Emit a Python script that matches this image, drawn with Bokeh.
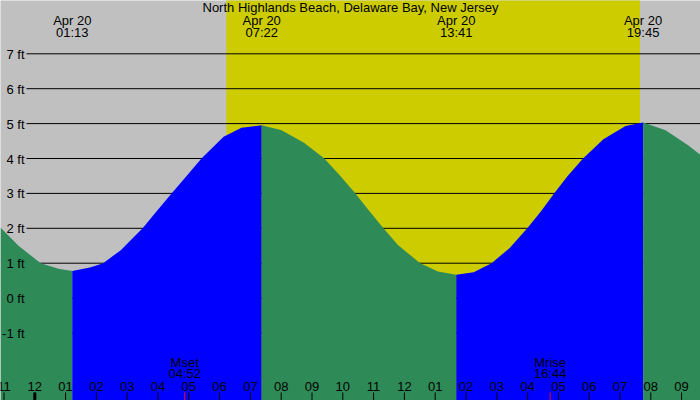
from bokeh.plotting import figure
from bokeh.models import Range1d
from bokeh.core.properties import value
from bokeh.embed import file_html
from bokeh.resources import INLINE

# ---------------- data ----------------
title_text = "North Highlands Beach, Delaware Bay, New Jersey"

# tide height (hours after midnight Apr 20, feet)
tide_hours = [-1.114, -0.53, 0.19, 0.77, 1.217, 1.79, 2.22, 2.80, 3.50, 3.95,
              4.44, 4.97, 5.41, 6.13, 6.71, 7.367, 8.01, 8.74, 9.40, 9.90,
              10.41, 10.84, 11.32, 11.79, 12.51, 13.09, 13.683, 14.25, 14.83,
              15.41, 15.99, 16.43, 16.86, 17.30, 17.80, 18.46, 19.18, 19.75,
              20.48, 21.21, 21.62]
tide_feet = [2.02, 1.50, 1.00, 0.84, 0.78, 0.88, 1.00, 1.38, 2.00, 2.48,
             3.00, 3.54, 4.00, 4.62, 4.88, 4.95, 4.81, 4.45, 4.00, 3.52,
             3.00, 2.52, 2.00, 1.52, 1.00, 0.76, 0.67, 0.74, 1.00,
             1.43, 2.00, 2.48, 3.00, 3.50, 4.00, 4.55, 4.93, 5.03,
             4.81, 4.38, 4.10]

# tide extremes
extreme_hours = [1.217, 7.367, 13.683, 19.75]
extreme_dates = ["Apr 20", "Apr 20", "Apr 20", "Apr 20"]
extreme_times = ["01:13", "07:22", "13:41", "19:45"]

# daylight
sunrise_hour = 6.22
sunset_hour = 19.65

# moon
moon_hours = [4.867, 16.733]
moon_names = ["Mset", "Mrise"]
moon_times = ["04:52", "16:44"]

# axis labels
level_ticks = [-1, 0, 1, 2, 3, 4, 5, 6, 7]
level_labels = ["-1 ft", "0 ft", "1 ft", "2 ft", "3 ft", "4 ft", "5 ft", "6 ft", "7 ft"]
hour_ticks = list(range(-1, 22))
hour_labels = ["11", "12", "01", "02", "03", "04", "05", "06", "07", "08", "09", "10",
               "11", "12", "01", "02", "03", "04", "05", "06", "07", "08", "09"]
midnight_hour = 0

# ---------------- layout ----------------
W, H = 700, 400
PX_PER_H = 30.8
MIDNIGHT_PX = 34.3
PX_PER_FT = 34.9
ZERO_PY = 297.6
TEXT_SHIFT = 4.5  # renderer places alphabetic baseline slightly low

X0 = -MIDNIGHT_PX / PX_PER_H
X1 = X0 + W / PX_PER_H
Y1 = ZERO_PY / PX_PER_FT
Y0 = (ZERO_PY - H) / PX_PER_FT


def hx(px):
    return X0 + px / PX_PER_H


def fy(py):
    return (ZERO_PY - py) / PX_PER_FT


def ty(py):
    return fy(py - TEXT_SHIFT)


GRAY = "#C0C0C0"
YELLOW = "#CCCC00"
GREEN = "#2E8B57"
BLUE = "#0000FF"
FONT = value("Liberation Sans")
FS = "13px"

p = figure(width=W, height=H, x_range=Range1d(X0, X1), y_range=Range1d(Y0, Y1),
           x_axis_type=None, y_axis_type=None, toolbar_location=None,
           output_backend="svg", min_border=0,
           background_fill_color=GRAY, border_fill_color=GRAY)
p.outline_line_color = None
p.grid.visible = False

# daylight band
p.quad(left=[sunrise_hour], right=[sunset_hour], bottom=[Y0 - 1], top=[Y1 + 1],
       fill_color=YELLOW, line_color=None)

# level lines
p.segment(x0=[hx(26)] * len(level_ticks), x1=[X1 + 1] * len(level_ticks),
          y0=level_ticks, y1=level_ticks, line_color="black", line_width=1)

# tide fills: rising = blue, falling = green
bounds = [X0 - 1] + extreme_hours + [X1 + 1]
for a, b in zip(bounds[:-1], bounds[1:]):
    xs = [t for t in tide_hours if a <= t <= b]
    ys = [tide_feet[tide_hours.index(t)] for t in xs]
    if len(xs) < 2:
        continue
    color = BLUE if ys[-1] > ys[0] else GREEN
    p.varea(x=xs, y1=[Y0 - 1] * len(xs), y2=ys, fill_color=color)

# level labels
p.text(x=[hx(24)] * len(level_ticks),
       y=[v - (5 - TEXT_SHIFT) / PX_PER_FT for v in level_ticks],
       text=level_labels, text_align="right", text_baseline="alphabetic",
       text_font=FONT, text_font_size=FS, text_color="black")

# title
p.text(x=[(X0 + X1) / 2], y=[ty(11.5)], text=[title_text], text_align="center",
       text_baseline="alphabetic", text_font=FONT, text_font_size=FS, text_color="black")

# extreme labels
p.text(x=extreme_hours, y=[ty(24)] * 4, text=extreme_dates, text_align="center",
       text_baseline="alphabetic", text_font=FONT, text_font_size=FS, text_color="black")
p.text(x=extreme_hours, y=[ty(36.3)] * 4, text=extreme_times, text_align="center",
       text_baseline="alphabetic", text_font=FONT, text_font_size=FS, text_color="black")

# moon labels
p.text(x=moon_hours, y=[ty(366)] * 2, text=moon_names, text_align="center",
       text_baseline="alphabetic", text_font=FONT, text_font_size=FS, text_color="black")
p.text(x=moon_hours, y=[ty(377.7)] * 2, text=moon_times, text_align="center",
       text_baseline="alphabetic", text_font=FONT, text_font_size=FS, text_color="black")

# hour ticks
p.segment(x0=hour_ticks, x1=hour_ticks, y0=[fy(392)] * len(hour_ticks),
          y1=[Y0 - 1] * len(hour_ticks), line_color="black", line_width=1)
p.segment(x0=[midnight_hour], x1=[midnight_hour], y0=[fy(392)], y1=[Y0 - 1],
          line_color="black", line_width=3)
p.segment(x0=moon_hours, x1=moon_hours, y0=[fy(392)] * 2, y1=[Y0 - 1] * 2,
          line_color="red", line_width=1)
p.text(x=hour_ticks, y=[ty(390)] * len(hour_ticks), text=hour_labels,
       text_align="center", text_baseline="alphabetic", text_font=FONT,
       text_font_size=FS, text_color="black")

open("out.html", "w").write(file_html(p, INLINE))
